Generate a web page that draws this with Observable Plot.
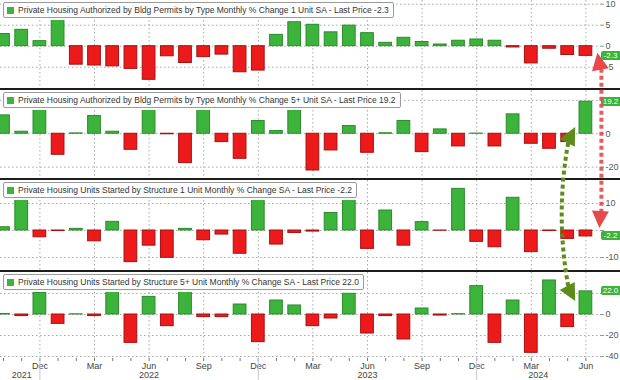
<!DOCTYPE html>
<html><head><meta charset="utf-8">
<script src="https://cdn.jsdelivr.net/npm/d3@7"></script>
<script src="https://cdn.jsdelivr.net/npm/@observablehq/plot@0.6"></script>
<style>
body{margin:0;background:#fff;}
#chart{position:relative;width:620px;height:380px;overflow:hidden;background:#fff;font-family:"Liberation Sans",Arial,sans-serif;}
.panel{position:absolute;left:0;width:620px;}
.divider{position:absolute;left:0;width:620px;height:2px;background:#1c1c1c;}
.legend{position:absolute;left:3px;height:14px;background:#fff;border:1px solid #9a9a9a;border-radius:2px;font-size:8.5px;line-height:14px;color:#333;padding:0 4px 0 14px;white-space:nowrap;box-shadow:0 0 0 2px #fff;}
.legend::before{content:"";position:absolute;left:3px;top:4px;width:7px;height:7px;background:#3cb43c;}
.badge{position:absolute;left:601px;width:19px;height:9px;background:#3cb43c;color:#fff;font-size:8px;line-height:9px;text-align:center;border-radius:2px 0 0 2px;}
#overlay{position:absolute;left:0;top:0;pointer-events:none;}
</style></head>
<body><div id="chart"></div>
<script>
// ---- categories ----
const months = ["2021-10","2021-11","2021-12",
  "2022-01","2022-02","2022-03","2022-04","2022-05","2022-06","2022-07","2022-08","2022-09","2022-10","2022-11","2022-12",
  "2023-01","2023-02","2023-03","2023-04","2023-05","2023-06","2023-07","2023-08","2023-09","2023-10","2023-11","2023-12",
  "2024-01","2024-02","2024-03","2024-04","2024-05","2024-06"];
const monthTickNames = {"03":"Mar","06":"Jun","09":"Sep","12":"Dec"};
const yearLabels = ["2021","2022","2023","2024"];
const yearAnchors = ["2021-11","2022-06","2023-06","2024-03"];

// ---- series (monthly % change) ----
const permits1 = [2.9,3.9,1.2, 6.5,-4.4,-4.6,-4.8,-5.4,-8.0,-2.4,-4.0,-2.6,-2.0,-6.2,-5.8,
  2.7,5.7,5.1,3.3,4.9,3.1,0.8,2.0,1.0,0.4,1.3,1.6, 1.3,-0.3,-4.1,-0.6,-2.1,-2.3];
const permits5 = [11.0,1.2,20.0, -12.6,0.2,10.6,1.2,-9.6,22.0,-0.3,-17.6,21.0,-5.0,-15.0,7.6,
  1.6,18.0,-22.0,-10.0,4.6,-11.4,0.3,7.6,-11.0,2.6,-7.6,0.1, -7.6,11.6,-6.0,-9.0,-5.0,19.2];
const starts1 = [1.2,12.5,-2.5, -0.2,0.6,-4.0,3.2,-11.7,-5.6,-10.1,0.6,-3.6,-1.5,-8.6,11.5,
  -5.2,-0.9,-0.4,6.5,13.8,-6.8,7.4,-5.6,3.1,-0.1,15.4,-4.2, -6.2,12.1,-8.0,-0.2,-3.1,-2.2];
const starts5 = [0.5,-1.5,20.6, -8.9,0.2,-1.5,28.0,-27.0,16.8,-11.1,25.0,-2.5,-2.5,9.5,-26.3,
  13.3,8.6,-11.1,-3.8,19.7,-18.1,-1.5,-23.8,5.7,-1.0,0.3,27.0, -27.0,13.3,-36.5,32.4,-12.0,22.0];

const titles = [
  "Private Housing Authorized by Bldg Permits by Type Monthly % Change 1 Unit SA - Last Price -2.3",
  "Private Housing Authorized by Bldg Permits by Type Monthly % Change 5+ Unit SA - Last Price 19.2",
  "Private Housing Units Started by Structure 1 Unit Monthly % Change SA - Last Price -2.2",
  "Private Housing Units Started by Structure 5+ Unit Monthly % Change SA - Last Price 22.0"];
const lastLabels = ["-2.3","19.2","-2.2","22.0"];
const yTicks = [[10,5,0,-5],[20,0,-20],[10,0,-10],[20,0,-20,-40]];
// tick labels covered by the last-price badge in the original
const hiddenTickLabels = [[],[20],[0],[20]];

// ---- layout / style ----
const GREEN="#3cb43c", GREEN_EDGE="#2a8a2a", RED="#ec1a1a", RED_EDGE="#a81010";
const panels = [
  {values:permits1, top:0,   height:88,  domain:[-10.07,10.88]},
  {values:permits5, top:90,  height:88,  domain:[-26.8,25.9]},
  {values:starts1,  top:180, height:90,  domain:[-14.8,18.5]},
  {values:starts5,  top:272, height:108, plotH:86, domain:[-41.9,40], xAxis:true}
];
const quarterMonths = months.filter(m => monthTickNames[m.slice(5)]);
const decMonths = months.filter(m => m.slice(5) === "12");
const root = document.getElementById("chart");
const charts = [];

panels.forEach((p, k) => {
  const data = months.map((m, i) => ({m, v: p.values[i]}));
  const mb = p.xAxis ? p.height - p.plotH : 0;
  const grid = {stroke:"#a8a8a8", strokeOpacity:1, strokeDasharray:"1.5,2.5"};
  const marks = [
    Plot.gridY(yTicks[k], grid),
    Plot.gridX(quarterMonths, grid),
    Plot.barY(data, {x:"m", y:"v", fill:d => d.v >= 0 ? GREEN : RED,
      stroke:d => d.v >= 0 ? GREEN_EDGE : RED_EDGE, strokeWidth:1, clip:true}),
    Plot.axisY({anchor:"right", ticks:yTicks[k], tickSize:4, tickPadding:2, line:true, label:null,
      tickFormat:d => hiddenTickLabels[k].includes(d) ? "" : String(d), fontSize:9, color:"#555", stroke:"#8a9a8a"})
  ];
  if (p.xAxis) {
    marks.push(
      Plot.axisX({ticks:months, tickSize:3, tickPadding:1, label:null, tickFormat:m => monthTickNames[m.slice(5)] || "",
        fontSize:9, color:"#444", stroke:"#777"}),
      Plot.axisX({ticks:decMonths, tickSize:22, label:null, tickFormat:() => "", stroke:"#c8c8c8"}),
      Plot.text(yearLabels.slice(0,3), {x:(d,i) => yearAnchors[i], text:d => d, frameAnchor:"bottom", dy:19, fontSize:9, fill:"#444"}),
      Plot.text(yearLabels.slice(3), {x:() => yearAnchors[3], text:d => d, frameAnchor:"bottom", dy:19, dx:7, fontSize:9, fill:"#444"})
    );
  }
  const chart = Plot.plot({
    width:620, height:p.height, marginTop:0, marginBottom:mb, marginLeft:0, marginRight:21,
    style:{fontFamily:"Liberation Sans, Arial, sans-serif", fontSize:"9px", color:"#555", background:"transparent", overflow:"visible"},
    x:{type:"band", domain:months, range:[-6.1,594.5], paddingInner:0.3, paddingOuter:0.15, round:false, axis:null, label:null},
    y:{domain:p.domain, axis:null, label:null},
    color:{type:"identity"},
    marks
  });
  const div = document.createElement("div");
  div.className = "panel";
  div.style.top = p.top + "px";
  div.style.height = p.height + "px";
  div.appendChild(chart);
  root.appendChild(div);
  charts.push(chart);

  // legend box
  const lg = document.createElement("div");
  lg.className = "legend";
  lg.style.top = (p.top + 2) + "px";
  lg.textContent = titles[k];
  root.appendChild(lg);

  // last value badge
  const b = document.createElement("div");
  b.className = "badge";
  const yLast = chart.scale("y").apply(p.values[p.values.length - 1]);
  b.style.top = (p.top + yLast - 4.5) + "px";
  b.textContent = lastLabels[k];
  root.appendChild(b);
});

// dividers between panels
[88, 178, 270].forEach(t => {
  const d = document.createElement("div");
  d.className = "divider"; d.style.top = t + "px"; root.appendChild(d);
});

// ---- annotation arrows (positioned with the panels' scales) ----
const xc = (c, m) => { const s = c.scale("x"); return s.apply(m) + s.bandwidth / 2; };
const yAt = (k, v) => panels[k].top + charts[k].scale("y").apply(v);
const NS = "http://www.w3.org/2000/svg";
const ov = document.createElementNS(NS, "svg");
ov.setAttribute("id","overlay"); ov.setAttribute("width",620); ov.setAttribute("height",380);
root.appendChild(ov);
function el(tag, attrs){ const e=document.createElementNS(NS,tag); for(const a in attrs) e.setAttribute(a, attrs[a]); ov.appendChild(e); return e; }
function head(T, B, w, color){
  const dx=T[0]-B[0], dy=T[1]-B[1], L=Math.hypot(dx,dy), nx=-dy/L*w/2, ny=dx/L*w/2;
  el("polygon",{points:`${T[0]},${T[1]} ${B[0]+nx},${B[1]+ny} ${B[0]-nx},${B[1]-ny}`, fill:color});
}
// red: permits 1-unit (Jun 2024) <-> starts 1-unit
{
  const x = xc(charts[0], "2024-06") + 15;
  const t = [x - 3, yAt(0, -1.7)], b = [x - 1, yAt(2, 0.7)];
  const col = "#e8484c";
  el("line",{x1:x+1, y1:t[1]+16, x2:x+1, y2:b[1]-16, stroke:col, "stroke-width":4, "stroke-dasharray":"4,3", opacity:0.9});
  head(t, [x, t[1]+17], 17, col);
  head(b, [x, b[1]-17], 17, col);
}
// green: permits 5+ (May 2024) <-> starts 5+
{
  const x = xc(charts[1], "2024-05");
  const t = [x + 8, yAt(1, 3.8)], b = [x + 8, yAt(3, 12.4)];
  const col = "#5e8c1c";
  el("path",{d:`M${x+1},${t[1]+16} Q${x-12},${(t[1]+b[1])/2} ${x+1},${b[1]-15}`, fill:"none", stroke:col, "stroke-width":4, "stroke-dasharray":"4,3"});
  head(t, [x, t[1]+16], 17, col);
  head(b, [x, b[1]-15], 17, col);
}
</script>
</body></html>
